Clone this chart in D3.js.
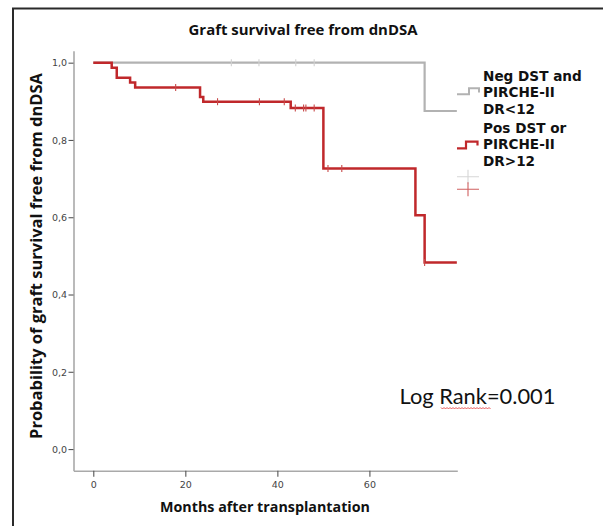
<!DOCTYPE html>
<html>
<head>
<meta charset="utf-8">
<script src="https://cdn.jsdelivr.net/npm/d3@7"></script>
<style>
  html, body { margin: 0; padding: 0; background: #fff; }
  svg { display: block; }
</style>
</head>
<body>
<svg id="chart" width="603" height="526"></svg>
<script>
// Kaplan-Meier curves: graft survival free from dnDSA
const neg = { name: ["Neg DST and", "PIRCHE-II", "DR<12"],
  times: [0, 72], surv: [1.0, 0.875], censored: [30, 36, 44, 48] };
const pos = { name: ["Pos DST or", "PIRCHE-II", "DR>12"],
  times: [0, 4.0, 5.1, 8.0, 9.1, 23.2, 23.9, 42.9, 50.0, 70.0, 72.0],
  surv: [1.0, 0.987, 0.961, 0.949, 0.936, 0.911, 0.899, 0.883, 0.726, 0.605, 0.483],
  censored: [17.9, 27.0, 36.1, 41.5, 43.9, 45.7, 46.2, 48.0, 51.0, 54.0, 72.0] };
const followUpEnd = 79;
const xTicks = [0, 20, 40, 60];
const yTicks = [0, 0.2, 0.4, 0.6, 0.8, 1.0];
const title = "Graft survival free from dnDSA";
const xTitle = "Months after transplantation";
const yTitle = "Probability of graft survival free from dnDSA";
const statText = "Log Rank=0.001";

const RED = "#c0282b", GRAY = "#b2b2b2";
const svg = d3.select("#chart");

// outer frame
svg.append("rect").attr("x", 13).attr("y", 8.5).attr("width", 640).attr("height", 600)
  .attr("fill", "none").attr("stroke", "#2a2a2a").attr("stroke-width", 2);

const x = d3.scaleLinear().domain([-4.3, 79.1]).range([73.5, 457.3]);
const y = d3.scaleLinear().domain([-0.056, 1.031]).range([470.7, 50.7]);

// shrink or grow a text's font size so it spans the given width
function fit(sel, width) {
  const node = sel.node();
  const fs = parseFloat(sel.attr("font-size"));
  const w = node.getComputedTextLength();
  sel.attr("font-size", (fs * width / w).toFixed(2));
  return sel;
}

// axes
const yAxis = svg.append("g").attr("transform", `translate(${x.range()[0]},0)`)
  .call(d3.axisLeft(y).tickValues(yTicks).tickSize(5).tickSizeOuter(0)
    .tickFormat(d => d3.format(".1f")(d).replace(".", ",")));
const xAxis = svg.append("g").attr("transform", `translate(0,${y.range()[0]})`)
  .call(d3.axisBottom(x).tickValues(xTicks).tickSize(6).tickSizeOuter(0));
[yAxis, xAxis].forEach(g => {
  g.select(".domain").attr("stroke", "#a9a9a9").attr("stroke-width", 1.6);
  g.selectAll(".tick line").attr("stroke", "#555").attr("stroke-width", 1.1);
  g.selectAll(".tick text").attr("fill", "#444").attr("font-family", "DejaVu Sans")
    .attr("font-size", 9.5);
});
yAxis.selectAll(".tick text").attr("x", -6.5).attr("dy", "0.34em");
xAxis.selectAll(".tick text").attr("y", 10.5).attr("dy", "0.71em");

// survival step lookup
function survAt(s, t) {
  let v = s.surv[0];
  s.times.forEach((tt, i) => { if (tt <= t) v = s.surv[i]; });
  return v;
}
const stepLine = d3.line().x(d => x(d[0])).y(d => y(d[1])).curve(d3.curveStepAfter);
function drawCurve(s, color, width, censorColor) {
  const pts = s.times.map((t, i) => [t, s.surv[i]]);
  pts.push([followUpEnd, s.surv[s.surv.length - 1]]);
  svg.append("path").datum(pts).attr("d", stepLine)
    .attr("fill", "none").attr("stroke", color).attr("stroke-width", width);
  svg.append("g").selectAll("line").data(s.censored).join("line")
    .attr("x1", d => x(d)).attr("x2", d => x(d))
    .attr("y1", d => y(survAt(s, d)) - 3.5).attr("y2", d => y(survAt(s, d)) + 3.5)
    .attr("stroke", censorColor).attr("stroke-width", 1.1);
}
drawCurve(neg, GRAY, 2.2, "#d0d0d0");
drawCurve(pos, RED, 2.5, "#c84a4a");

// titles
fit(svg.append("text").attr("x", 303).attr("y", 35).attr("text-anchor", "middle")
  .attr("font-family", "Open Sans").attr("font-weight", "bold").attr("font-size", 14)
  .attr("fill", "#111").text(title), 229);
fit(svg.append("text").attr("x", 265).attr("y", 512).attr("text-anchor", "middle")
  .attr("font-family", "Open Sans").attr("font-weight", "bold").attr("font-size", 13.5)
  .attr("fill", "#111").text(xTitle), 210);
fit(svg.append("text").attr("transform", "translate(42,256) rotate(-90)")
  .attr("text-anchor", "middle")
  .attr("font-family", "Open Sans").attr("font-weight", "bold").attr("font-size", 13)
  .attr("fill", "#111").text(yTitle), 366);

// legend
const legend = svg.append("g");
function legendEntry(lines, y0, color, icon) {
  lines.forEach((t, i) => {
    legend.append("text").attr("x", 483).attr("y", y0 + i * 16.7)
      .attr("font-family", "DejaVu Sans").attr("font-weight", "bold").attr("font-size", 13.6)
      .attr("fill", "#111").text(t);
  });
  legend.append("path").attr("d", icon).attr("fill", "none")
    .attr("stroke", color).attr("stroke-width", color === RED ? 2.2 : 2);
}
legendEntry(neg.name, 80.7, GRAY, "M457,94.3H469V88.3H479V92.5");
legendEntry(pos.name, 132.7, RED, "M457,148.3H466V141.7H477.5V145.5");
// censor symbols in legend
[[176.7, "#d6d6d6"], [189.3, "#d06060"]].forEach(([cy, c]) => {
  legend.append("path").attr("d", `M457,${cy}H479M468,${cy - 7}V${cy + 7}`)
    .attr("stroke", c).attr("stroke-width", 1.1).attr("fill", "none");
});

// log rank statistic
fit(svg.append("text").attr("x", 399.5).attr("y", 403.5)
  .attr("font-family", "Lato").attr("font-size", 18).attr("fill", "#111").text(statText), 156);
// wavy underline beneath "Rank"
let wave = "M441,407.5";
for (let xx = 441, k = 0; xx < 490; xx += 1.5, k++) wave += `L${xx + 1.5},${k % 2 ? 407.5 : 409}`;
svg.append("path").attr("d", wave).attr("fill", "none").attr("stroke", "#e03030").attr("stroke-width", 0.8);
</script>
</body>
</html>
